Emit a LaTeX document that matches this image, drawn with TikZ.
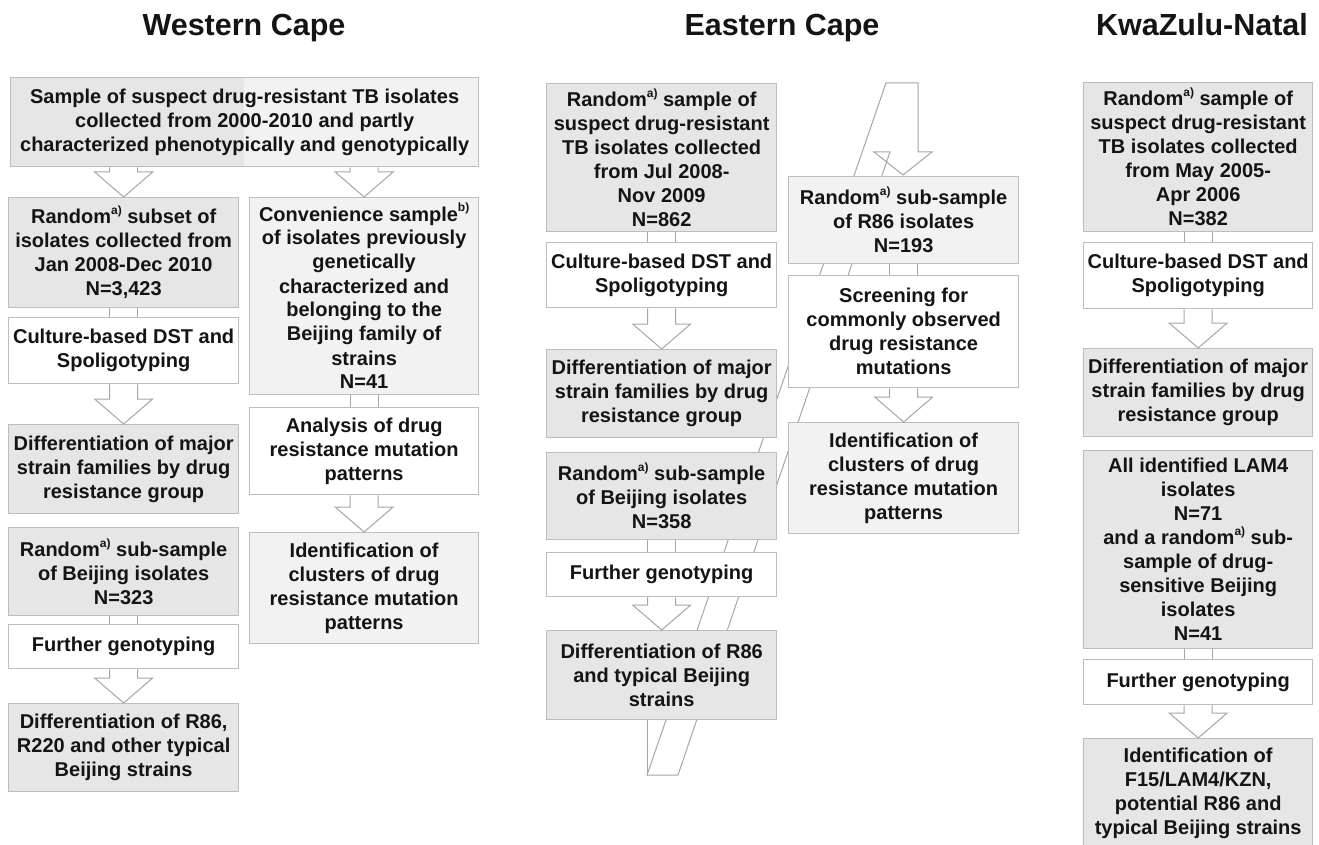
\documentclass[tikz,border=0pt]{standalone}
\usepackage{fontspec}
\setmainfont{Liberation Sans}
\usetikzlibrary{calc}
\definecolor{dk}{HTML}{E6E6E6}
\definecolor{lt}{HTML}{F2F2F2}
\definecolor{bl}{HTML}{BDBDBD}
\definecolor{al}{HTML}{A6A6A6}
\definecolor{tx}{HTML}{141414}
\newcommand\myss[1]{\raisebox{0.45em}{\fontsize{12}{12}\selectfont #1}}
\newcommand\blockarrow[2]{%
  \draw[arr] let \p1=(#1.south), \p2=(#2.north) in
    (\x2-14pt,\y1) -- (\x2-14pt,\y2+25pt) -- (\x2-29pt,\y2+25pt) -- (\x2,\y2)
    -- (\x2+29pt,\y2+25pt) -- (\x2+14pt,\y2+25pt) -- (\x2+14pt,\y1);}
\newcommand\shaftpair[2]{%
  \draw[arr] let \p1=(#1.south), \p2=(#2.north) in
    (\x2-14pt,\y1) -- (\x2-14pt,\y2) (\x2+14pt,\y1) -- (\x2+14pt,\y2);}
\begin{document}
\begin{tikzpicture}[x=1pt,y=-1pt,
  box/.style={draw=bl, line width=1.3pt, align=center, text=tx,
    font=\bfseries\fontsize{20}{24}\selectfont, inner sep=0pt, anchor=north west},
  dkbox/.style={box, fill=dk},
  ltbox/.style={box, fill=lt},
  whbox/.style={box, fill=white},
  title/.style={font=\bfseries\fontsize{30.5}{36}\selectfont, text=tx, anchor=base},
  arr/.style={draw=al, line width=1pt, line join=miter}]
\useasboundingbox (0,0) rectangle (1319,845);
\fill[white] (0,0) rectangle (1319,845);

% titles
\node[title] (t1) at (244,36) {Western Cape};
\node[title] (t2) at (782,36) {Eastern Cape};
\node[title] (t3) at (1202,36) {KwaZulu-Natal};

% skewed block arrow in Eastern Cape (drawn behind the boxes)
\draw[arr] (647,775) -- (886,83) -- (918,83) -- (918,152) -- (932,152) -- (903,175)
  -- (874,152) -- (890,152) -- (678,775) -- cycle;
\draw[arr] (647,719) -- (647,775);

% Western Cape
\fill[dk] (10,77) rectangle (244,166);
\fill[lt] (244,77) rectangle (478,166);
\node[box, minimum width=468pt, minimum height=89pt] (wtop) at (10,77)
  {Sample of suspect drug-resistant TB isolates\\collected from 2000-2010 and partly\\characterized phenotypically and genotypically};
\node[dkbox, minimum width=230pt, minimum height=110pt] (wl1) at (8,197)
  {Random\myss{a)} subset of\\isolates collected from\\Jan 2008-Dec 2010\\N=3,423};
\node[whbox, minimum width=230pt, minimum height=66pt] (wl2) at (8,317)
  {Culture-based DST and\\Spoligotyping};
\node[dkbox, minimum width=230pt, minimum height=89pt] (wl3) at (8,424)
  {Differentiation of major\\strain families by drug\\resistance group};
\node[dkbox, minimum width=230pt, minimum height=88pt] (wl4) at (8,527)
  {Random\myss{a)} sub-sample\\of Beijing isolates\\N=323};
\node[whbox, minimum width=230pt, minimum height=44pt] (wl5) at (8,624)
  {Further genotyping};
\node[dkbox, minimum width=230pt, minimum height=88pt] (wl6) at (8,703)
  {Differentiation of R86,\\R220 and other typical\\Beijing strains};
\node[ltbox, minimum width=229pt, minimum height=197pt] (wr1) at (249,197)
  {Convenience sample\myss{b)}\\of isolates previously\\genetically\\characterized and\\belonging to the\\Beijing family of\\strains\\N=41};
\node[whbox, minimum width=229pt, minimum height=87pt] (wr2) at (249,407)
  {Analysis of drug\\resistance mutation\\patterns};
\node[ltbox, minimum width=229pt, minimum height=111pt] (wr3) at (249,532)
  {Identification of\\clusters of drug\\resistance mutation\\patterns};

% Eastern Cape
\node[dkbox, minimum width=230pt, minimum height=148pt] (e1) at (546,83)
  {Random\myss{a)} sample of\\suspect drug-resistant\\TB isolates collected\\from Jul 2008-\\Nov 2009\\N=862};
\node[whbox, minimum width=230pt, minimum height=65pt] (e2) at (546,242)
  {Culture-based DST and\\Spoligotyping};
\node[dkbox, minimum width=230pt, minimum height=88pt] (e3) at (546,349)
  {Differentiation of major\\strain families by drug\\resistance group};
\node[dkbox, minimum width=230pt, minimum height=87pt] (e4) at (546,452)
  {Random\myss{a)} sub-sample\\of Beijing isolates\\N=358};
\node[whbox, minimum width=230pt, minimum height=44pt] (e5) at (546,552)
  {Further genotyping};
\node[dkbox, minimum width=230pt, minimum height=89pt] (e6) at (546,630)
  {Differentiation of R86\\and typical Beijing\\strains};
\node[ltbox, minimum width=230pt, minimum height=87pt] (f1) at (788,176)
  {Random\myss{a)} sub-sample\\of R86 isolates\\N=193};
\node[whbox, minimum width=230pt, minimum height=112pt] (f2) at (788,275)
  {Screening for\\commonly observed\\drug resistance\\mutations};
\node[ltbox, minimum width=230pt, minimum height=111pt] (f3) at (788,422)
  {Identification of\\clusters of drug\\resistance mutation\\patterns};

% KwaZulu-Natal
\node[dkbox, minimum width=229pt, minimum height=149pt] (k1) at (1083,82)
  {Random\myss{a)} sample of\\suspect drug-resistant\\TB isolates collected\\from May 2005-\\Apr 2006\\N=382};
\node[whbox, minimum width=229pt, minimum height=66pt] (k2) at (1083,242)
  {Culture-based DST and\\Spoligotyping};
\node[dkbox, minimum width=229pt, minimum height=88pt] (k3) at (1083,348)
  {Differentiation of major\\strain families by drug\\resistance group};
\node[dkbox, minimum width=229pt, minimum height=198pt] (k4) at (1083,450)
  {All identified LAM4\\isolates\\N=71\\and a random\myss{a)} sub-\\sample of drug-\\sensitive Beijing\\isolates\\N=41};
\node[whbox, minimum width=229pt, minimum height=45pt] (k5) at (1083,659)
  {Further genotyping};
\node[dkbox, minimum width=229pt, minimum height=110pt] (k6) at (1083,738)
  {Identification of\\F15/LAM4/KZN,\\potential R86 and\\typical Beijing strains};

% connectors
\blockarrow{wtop}{wl1}
\blockarrow{wtop}{wr1}
\shaftpair{wl1}{wl2}
\blockarrow{wl2}{wl3}
\shaftpair{wl4}{wl5}
\blockarrow{wl5}{wl6}
\shaftpair{wr1}{wr2}
\blockarrow{wr2}{wr3}
\shaftpair{e1}{e2}
\blockarrow{e2}{e3}
\shaftpair{e4}{e5}
\blockarrow{e5}{e6}
\shaftpair{f1}{f2}
\blockarrow{f2}{f3}
\shaftpair{k1}{k2}
\blockarrow{k2}{k3}
\shaftpair{k4}{k5}
\blockarrow{k5}{k6}
\end{tikzpicture}
\end{document}
